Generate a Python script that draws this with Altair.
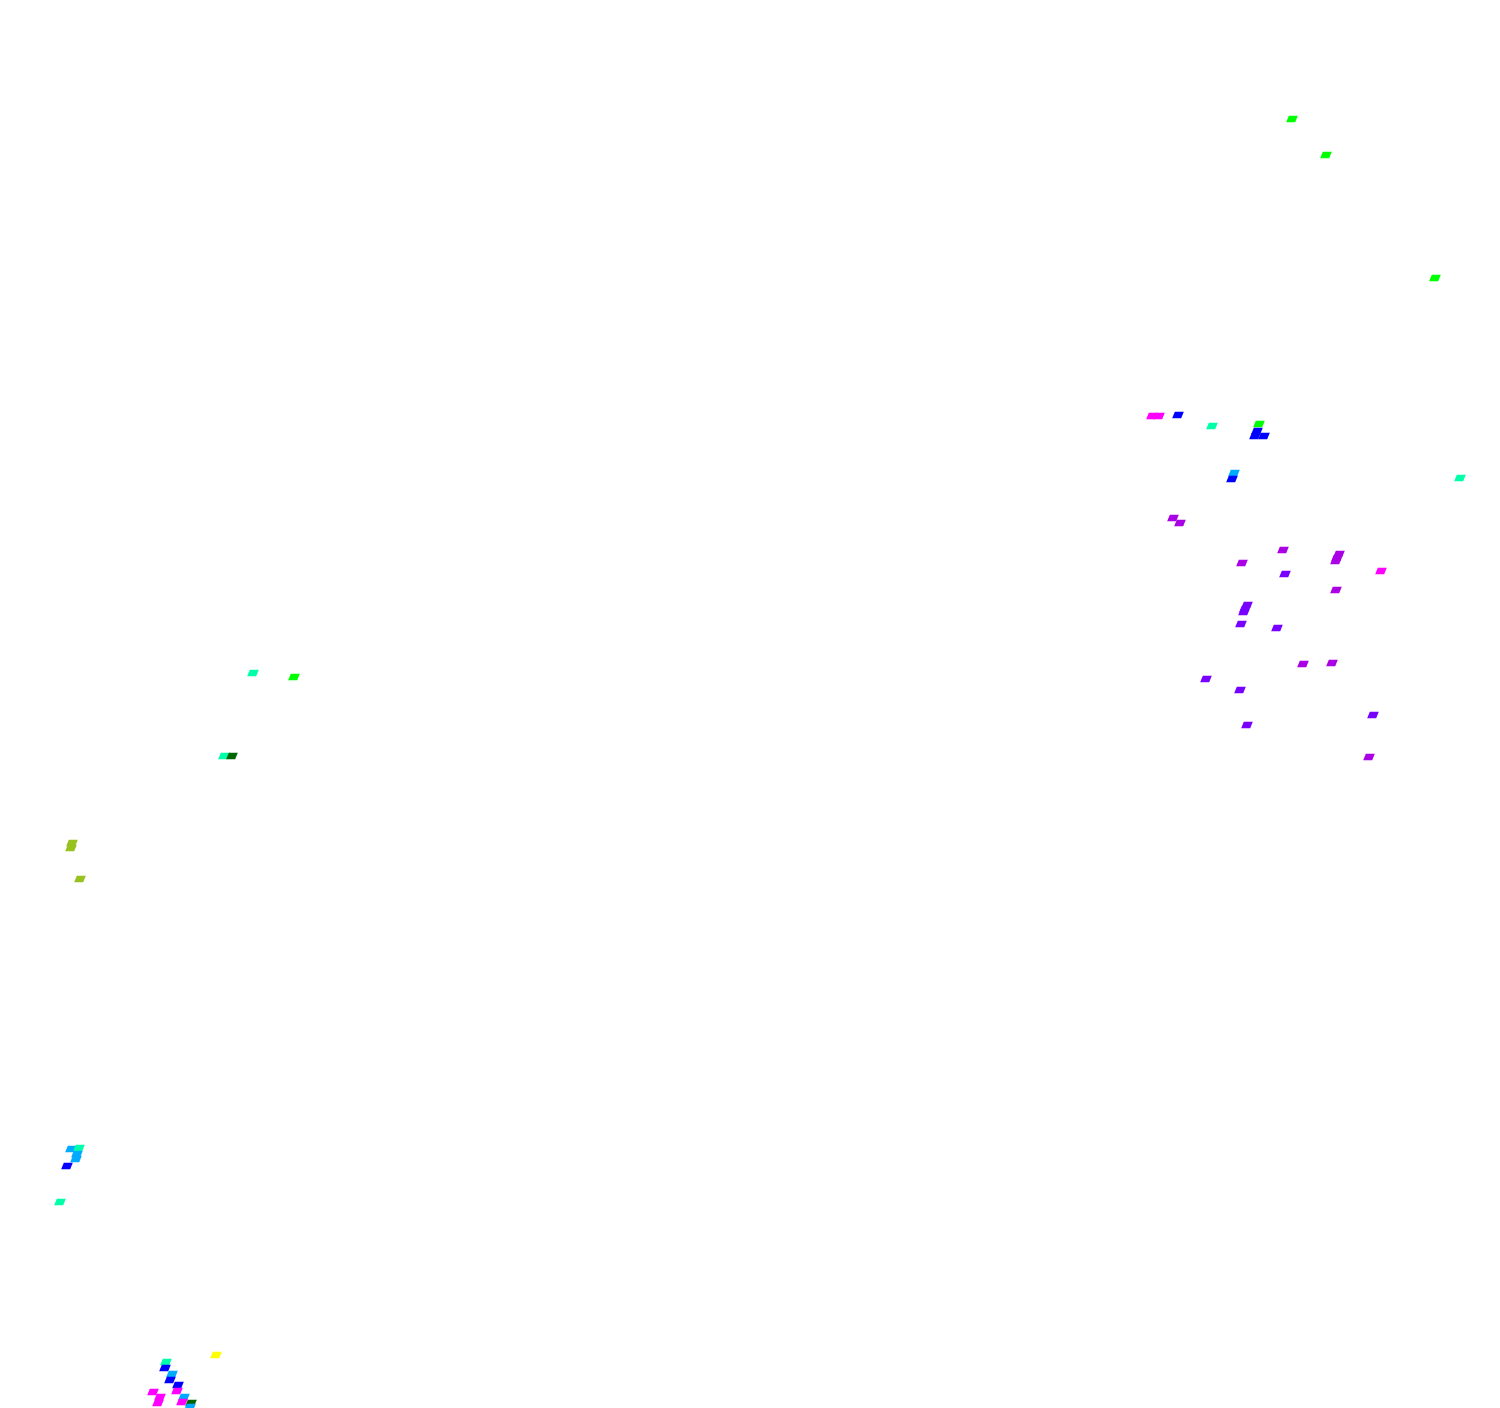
import altair as alt
import pandas as pd

# marker centres (page pixel coordinates) and colour group
xs = [1292, 1326, 1435, 1259, 294,
      1152, 1159, 1178, 1212, 1257, 1255, 1264, 1234, 1232,
      1460, 253, 224, 232,
      1173, 1180, 1283, 1339, 1337, 1336, 1242, 1285, 1336,
      1247, 1245, 1244, 1241, 1277, 1381, 1373, 1369,
      1206, 1240, 1247, 1303, 1332,
      72, 71, 80,
      71, 79, 77, 76, 67, 60,
      216, 166, 165, 172, 170, 178, 153, 177, 160, 158, 184, 182, 191, 190]
ys = [119, 155, 278, 424, 677,
      416, 416, 415, 426, 431, 436, 436, 473, 479,
      478, 673, 756, 756,
      518, 523, 550, 554, 558, 561, 563, 574, 590,
      605, 609, 612, 624, 628, 571, 715, 757,
      679, 690, 725, 664, 663,
      843, 848, 879,
      1149, 1148, 1154, 1159, 1166, 1202,
      1355, 1362, 1368, 1374, 1380, 1385, 1392, 1391, 1397, 1403, 1397, 1402, 1403, 1407]
groups = ["green", "green", "green", "green", "green",
          "magenta", "magenta", "blue", "spring", "blue", "blue", "blue", "azure", "blue",
          "spring", "spring", "spring", "darkgreen",
          "purple", "purple", "purple", "purple", "purple", "purple", "purple", "violet", "purple",
          "violet", "violet", "violet", "violet", "violet", "magenta", "violet", "purple",
          "violet", "violet", "violet", "purple", "purple",
          "olive", "olive", "olive",
          "azure", "spring", "azure", "azure", "blue", "spring",
          "yellow", "spring", "blue", "azure", "blue", "blue", "magenta", "magenta", "magenta", "magenta", "azure", "magenta", "darkgreen", "azure"]

group_names = ["green", "magenta", "blue", "spring", "azure", "purple", "violet",
               "yellow", "olive", "darkgreen"]
group_colors = ["#00ff00", "#ff00ff", "#0000ff", "#00ffaa", "#00aaff", "#aa00e6", "#7700ff",
                "#ffff00", "#96c11f", "#006400"]

df = pd.DataFrame({"x": xs, "y": ys, "g": groups})

shape = "M -0.55 -0.55 L 1 -0.55 L 0.55 0.55 L -1 0.55 Z"

chart = alt.Chart(df).mark_point(
    shape=shape, filled=True, opacity=1, size=135, strokeWidth=0
).encode(
    x=alt.X("x:Q", axis=None, scale=alt.Scale(domain=[8, 1492], nice=False, zero=False)),
    y=alt.Y("y:Q", axis=None, scale=alt.Scale(domain=[8, 1408], nice=False, zero=False, reverse=True)),
    color=alt.Color("g:N", legend=None,
                    scale=alt.Scale(domain=group_names, range=group_colors)),
).properties(
    width=1484, height=1400, padding=0, autosize=alt.AutoSizeParams(type="none")
).configure_view(strokeWidth=0)

chart.save("out.html", embed_options={"renderer": "svg", "actions": False})
